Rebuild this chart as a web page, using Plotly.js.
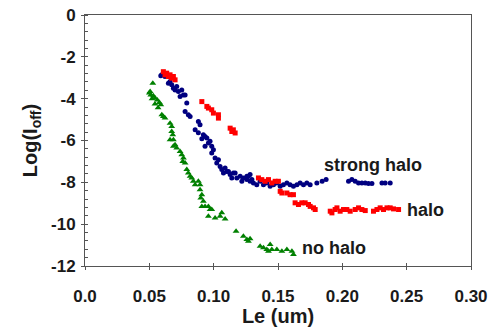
<!DOCTYPE html>
<html>
<head>
<meta charset="utf-8">
<script src="https://cdn.plot.ly/plotly-3.0.1.min.js"></script>
<style>html,body{margin:0;padding:0;background:#fff;}#chart{width:502px;height:327px;}</style>
</head>
<body>
<div id="chart"></div>
<script>
// strong halo (navy dots)
const strongX = [0.0589,0.0597,0.0622,0.0648,0.0661,0.0674,0.0687,0.0700,0.0713,0.0726,0.0752,0.0765,0.0739,0.0778,0.0791,0.0778,0.0803,0.0817,0.0881,0.0894,0.0856,0.0881,0.0920,0.0908,0.0947,0.0933,0.0959,0.0972,0.0985,0.0933,0.0998,0.0985,0.1011,0.1037,0.1024,0.1050,0.1063,0.1089,0.1076,0.1102,0.1115,0.1128,0.1153,0.1141,0.1167,0.1180,0.1206,0.1219,0.1231,0.1258,0.1270,0.1283,0.1297,0.1309,0.1335,0.1361,0.1387,0.1413,0.1439,0.1465,0.1491,0.1517,0.1542,0.1569,0.1594,0.1620,0.1647,0.1672,0.1698,0.1724,0.1750,0.1802,0.1843,0.1874,0.2048,0.2074,0.2100,0.2126,0.2152,0.2178,0.2203,0.2230,0.2308,0.2333,0.2372,0.1258,0.1283];
const strongY = [-2.91,-2.86,-2.94,-3.26,-3.18,-3.34,-3.50,-3.58,-3.42,-3.66,-3.58,-3.82,-3.90,-3.82,-4.21,-4.61,-4.77,-4.85,-5.09,-5.25,-5.49,-5.63,-5.73,-5.92,-5.88,-5.81,-6.12,-6.04,-6.28,-6.28,-6.44,-6.60,-6.84,-6.92,-7.08,-7.24,-7.39,-7.31,-7.55,-7.48,-7.48,-7.63,-7.55,-7.79,-7.55,-7.79,-7.71,-7.95,-7.79,-7.87,-7.71,-7.95,-7.87,-8.03,-8.11,-7.95,-8.11,-8.03,-8.19,-8.11,-8.03,-8.19,-8.11,-8.03,-8.11,-8.19,-8.11,-8.03,-8.11,-8.03,-8.11,-8.03,-7.95,-7.87,-7.95,-7.87,-7.95,-8.03,-8.03,-8.03,-8.06,-8.06,-8.03,-8.03,-8.03,-7.71,-7.63];

// halo (red squares)
const haloX = [0.0609,0.0622,0.0635,0.0648,0.0661,0.0674,0.0687,0.0700,0.0908,0.0947,0.0959,0.0985,0.0998,0.1037,0.1037,0.1128,0.1141,0.1167,0.1153,0.1348,0.1374,0.1400,0.1426,0.1452,0.1478,0.1503,0.1517,0.1530,0.1569,0.1594,0.1620,0.1633,0.1659,0.1685,0.1711,0.1737,0.1750,0.1776,0.1789,0.1906,0.1919,0.1944,0.1958,0.1983,0.2009,0.2035,0.2061,0.2100,0.2126,0.2152,0.2178,0.2242,0.2269,0.2294,0.2320,0.2347,0.2372,0.2398,0.2437];
const haloY = [-2.71,-2.86,-2.78,-2.94,-2.86,-3.02,-2.94,-3.10,-4.14,-4.37,-4.45,-4.53,-4.69,-4.77,-4.93,-5.41,-5.57,-5.64,-5.49,-7.79,-7.87,-7.95,-7.87,-8.03,-7.95,-7.95,-8.43,-8.51,-8.51,-8.59,-8.59,-8.98,-9.06,-8.98,-8.98,-9.06,-9.15,-9.22,-9.30,-9.38,-9.46,-9.30,-9.22,-9.38,-9.30,-9.30,-9.38,-9.30,-9.22,-9.30,-9.35,-9.38,-9.30,-9.22,-9.30,-9.22,-9.22,-9.27,-9.30];

// no halo (green triangles)
const noHaloX = [0.0527,0.0500,0.0511,0.0531,0.0544,0.0562,0.0578,0.0589,0.0506,0.0521,0.0544,0.0568,0.0597,0.0609,0.0622,0.0661,0.0674,0.0674,0.0682,0.0661,0.0687,0.0700,0.0687,0.0713,0.0739,0.0752,0.0765,0.0760,0.0778,0.0791,0.0803,0.0817,0.0830,0.0842,0.0856,0.0881,0.0894,0.0894,0.0908,0.0900,0.0920,0.0908,0.0933,0.0959,0.0972,0.0959,0.1011,0.1050,0.1089,0.1063,0.0985,0.1174,0.1231,0.1258,0.1283,0.1270,0.1361,0.1387,0.1413,0.1439,0.1452,0.1491,0.1530,0.1569,0.1608,0.1620,0.1426];
const noHaloY = [-3.26,-3.73,-3.82,-3.86,-3.97,-4.06,-4.18,-4.29,-3.66,-4.00,-4.25,-4.44,-4.77,-4.85,-4.93,-5.17,-5.33,-5.57,-5.73,-5.96,-5.96,-6.20,-6.28,-6.36,-6.52,-6.68,-6.84,-7.00,-7.08,-7.39,-7.55,-7.71,-7.79,-7.95,-8.11,-7.95,-8.11,-8.35,-8.59,-8.75,-8.91,-9.15,-9.15,-9.15,-9.30,-9.62,-9.70,-9.62,-9.75,-9.46,-9.30,-10.34,-10.58,-10.73,-10.70,-10.82,-11.05,-11.13,-11.21,-10.97,-11.21,-11.21,-11.29,-11.21,-11.29,-11.45,-11.29];

const xTickVals = [0, 0.05, 0.10, 0.15, 0.20, 0.25, 0.30];
const xTickText = ["0.0", "0.05", "0.10", "0.15", "0.20", "0.25", "0.30"];
const yTickVals = [0, -2, -4, -6, -8, -10, -12];
const yTickText = ["0", "-2", "-4", "-6", "-8", "-10", "-12"];

const labelFont = {family: "Liberation Sans, Arial, sans-serif", size: 17, color: "#1a1a1a", weight: "bold"};
const axisCol = "#555555";

const traces = [
  {x: strongX, y: strongY, type: "scatter", mode: "markers", name: "strong halo",
   marker: {symbol: "circle", size: 5, color: "#000080", line: {width: 0}}},
  {x: haloX, y: haloY, type: "scatter", mode: "markers", name: "halo",
   marker: {symbol: "square", size: 5, color: "#ff0000", line: {width: 0}}},
  {x: noHaloX, y: noHaloY, type: "scatter", mode: "markers", name: "no halo",
   marker: {symbol: "triangle-up", size: 6, color: "#008000", line: {width: 0}}},
  {x: [], y: [], type: "scatter", mode: "markers", xaxis: "x2", yaxis: "y2", showlegend: false, hoverinfo: "skip"}
];

const layout = {
  width: 502, height: 327,
  margin: {l: 85, r: 31, t: 15, b: 61, pad: 0},
  paper_bgcolor: "#ffffff", plot_bgcolor: "#ffffff",
  showlegend: false,
  xaxis: {
    range: [0, 0.30], tickvals: xTickVals, ticktext: xTickText,
    showgrid: false, zeroline: false, showline: true, linecolor: axisCol, linewidth: 1, mirror: true,
    ticks: "outside", ticklen: 3, tickcolor: axisCol, tickfont: labelFont, ticklabelstandoff: 12,
    title: {text: "Le (um)", font: {family: "Liberation Sans, Arial, sans-serif", size: 20, color: "#1a1a1a", weight: "bold"}, standoff: 2}
  },
  yaxis: {
    range: [-12, 0], tickvals: yTickVals, ticktext: yTickText,
    showgrid: false, zeroline: false, showline: true, linecolor: axisCol, linewidth: 1, mirror: true,
    ticks: "outside", ticklen: 3, tickcolor: axisCol, tickfont: labelFont, ticklabelstandoff: 2,
    minor: {dtick: 0.4, ticks: "inside", ticklen: 3, tickcolor: axisCol, showgrid: false},
    title: {text: "Log(I<sub>off</sub>)", font: {family: "Liberation Sans, Arial, sans-serif", size: 20, color: "#1a1a1a", weight: "bold"}, standoff: 8}
  },
  xaxis2: {
    overlaying: "x", anchor: "y2", range: [0, 0.30], tickvals: xTickVals,
    showgrid: false, zeroline: false, showline: false, showticklabels: false,
    ticks: "inside", ticklen: 3, tickcolor: axisCol
  },
  yaxis2: {
    overlaying: "y", anchor: "x2", range: [-12, 0], tickvals: yTickVals,
    showgrid: false, zeroline: false, showline: false, showticklabels: false,
    ticks: "inside", ticklen: 3, tickcolor: axisCol
  },
  annotations: [
    {x: 0.2236, y: -7.16, xref: "x", yref: "y", text: "strong halo", showarrow: false, xanchor: "center", yanchor: "middle",
     font: {family: "Liberation Sans, Arial, sans-serif", size: 18, color: "#1a1a1a", weight: "bold"}},
    {x: 0.2644, y: -9.30, xref: "x", yref: "y", text: "halo", showarrow: false, xanchor: "center", yanchor: "middle",
     font: {family: "Liberation Sans, Arial, sans-serif", size: 18, color: "#1a1a1a", weight: "bold"}},
    {x: 0.1937, y: -11.13, xref: "x", yref: "y", text: "no halo", showarrow: false, xanchor: "center", yanchor: "middle",
     font: {family: "Liberation Sans, Arial, sans-serif", size: 18, color: "#1a1a1a", weight: "bold"}}
  ]
};

Plotly.newPlot("chart", traces, layout, {displayModeBar: false, staticPlot: true});
</script>
</body>
</html>
